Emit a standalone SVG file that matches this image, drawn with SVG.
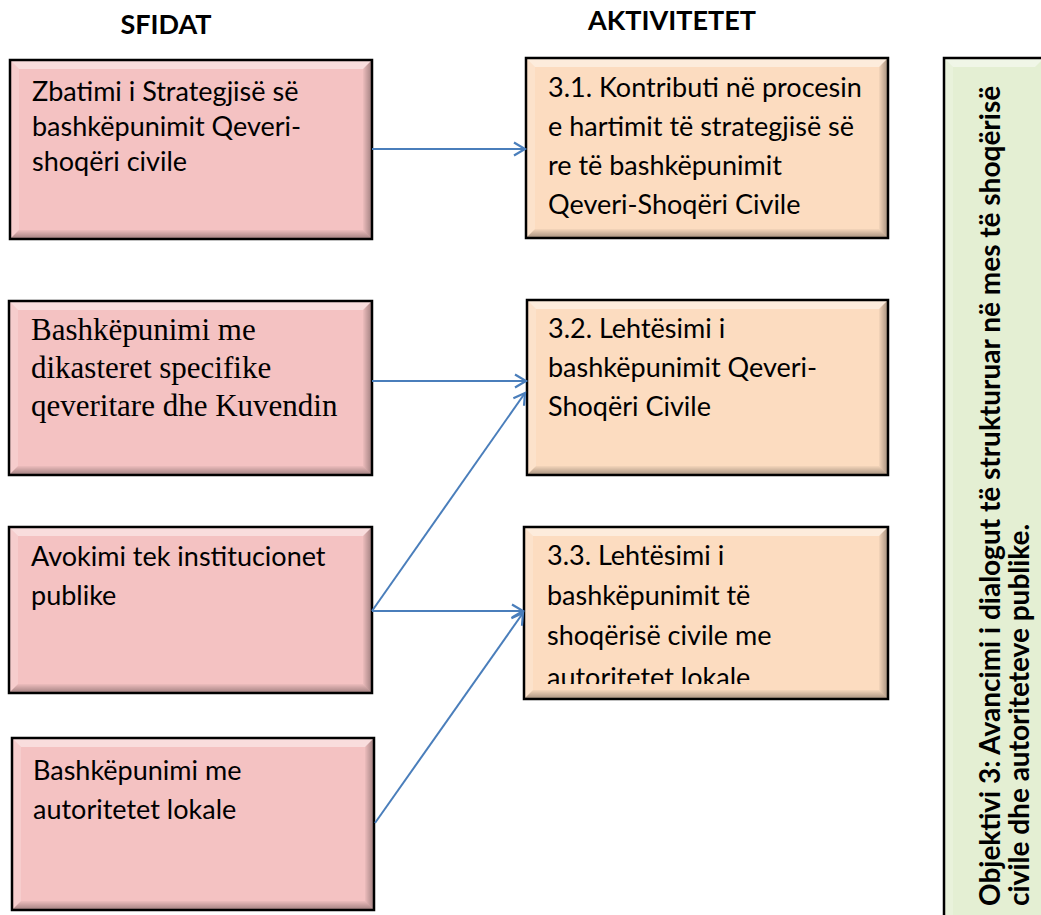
<svg xmlns="http://www.w3.org/2000/svg" width="1041" height="915" viewBox="0 0 1041 915">
<style>
.body{font-family:Lato,"Liberation Sans",sans-serif;font-size:27px;fill:#000}
.serif{font-family:"Liberation Serif",serif;font-size:31px;fill:#000}
.hdr{font-family:Lato,"Liberation Sans",sans-serif;font-size:27px;font-weight:bold;fill:#000}
.obj{font-family:Lato,"Liberation Sans",sans-serif;font-size:28px;font-weight:bold;fill:#000}
.frame{fill:none;stroke:#000;stroke-width:2.5}
.pink{fill:#F4C2C2}
.orange{fill:#FCDCC0}
.green{fill:#E4EFD3}
.hi{fill:#fff;fill-opacity:0.45}
.hl{fill:#fff;fill-opacity:0.18}
.conn{stroke:#4A7EBB;stroke-width:2;fill:none;marker-end:url(#arr)}
</style>
<defs>
<linearGradient id="gB" x1="0" y1="0" x2="0" y2="1"><stop offset="0" stop-color="#000" stop-opacity="0.03"/><stop offset="1" stop-color="#000" stop-opacity="0.35"/></linearGradient>
<linearGradient id="gR" x1="0" y1="0" x2="1" y2="0"><stop offset="0" stop-color="#000" stop-opacity="0.03"/><stop offset="1" stop-color="#000" stop-opacity="0.35"/></linearGradient>
<marker id="arr" markerUnits="userSpaceOnUse" markerWidth="16" markerHeight="16" refX="13" refY="8" orient="auto">
<path d="M2,1.5 L13,8 L2,14.5" fill="none" stroke="#4A7EBB" stroke-width="2.2"/>
</marker>
<clipPath id="c33"><rect x="524" y="527" width="364" height="157"/></clipPath>
</defs>
<rect width="1041" height="915" fill="#fff"/>

<g id="headers">
<text class="hdr" x="166" y="34" text-anchor="middle">SFIDAT</text>
<text class="hdr" x="672" y="30" text-anchor="middle">AKTIVITETET</text>
</g>

<g id="s1">
<rect class="pink" x="10" y="60" width="362" height="179"/>
<polygon class="hi" points="10,60 372,60 363,69 19,69"/>
<polygon class="hl" points="10,60 19,69 19,230 10,239"/>
<polygon fill="url(#gB)" points="10,239 19,230 363,230 372,239"/>
<polygon fill="url(#gR)" points="372,60 363,69 363,230 372,239"/>
<rect class="frame" x="10" y="60" width="362" height="179"/>
<text class="body" x="32" y="101">Zbatimi i Strategjisë së</text>
<text class="body" x="32" y="136">bashkëpunimit Qeveri-</text>
<text class="body" x="32" y="171">shoqëri civile</text>
</g>

<g id="s2">
<rect class="pink" x="9" y="301" width="363" height="174"/>
<polygon class="hi" points="9,301 372,301 363,310 18,310"/>
<polygon class="hl" points="9,301 18,310 18,466 9,475"/>
<polygon fill="url(#gB)" points="9,475 18,466 363,466 372,475"/>
<polygon fill="url(#gR)" points="372,301 363,310 363,466 372,475"/>
<rect class="frame" x="9" y="301" width="363" height="174"/>
<text class="serif" x="31" y="340">Bashkëpunimi me</text>
<text class="serif" x="31" y="378">dikasteret specifike</text>
<text class="serif" x="31" y="416">qeveritare dhe Kuvendin</text>
</g>

<g id="s3">
<rect class="pink" x="9" y="527" width="363" height="166"/>
<polygon class="hi" points="9,527 372,527 363,536 18,536"/>
<polygon class="hl" points="9,527 18,536 18,684 9,693"/>
<polygon fill="url(#gB)" points="9,693 18,684 363,684 372,693"/>
<polygon fill="url(#gR)" points="372,527 363,536 363,684 372,693"/>
<rect class="frame" x="9" y="527" width="363" height="166"/>
<text class="body" x="31" y="566">Avokimi tek institucionet</text>
<text class="body" x="31" y="605">publike</text>
</g>

<g id="s4">
<rect class="pink" x="12" y="738" width="362" height="172"/>
<polygon class="hi" points="12,738 374,738 365,747 21,747"/>
<polygon class="hl" points="12,738 21,747 21,901 12,910"/>
<polygon fill="url(#gB)" points="12,910 21,901 365,901 374,910"/>
<polygon fill="url(#gR)" points="374,738 365,747 365,901 374,910"/>
<rect class="frame" x="12" y="738" width="362" height="172"/>
<text class="body" x="33" y="780">Bashkëpunimi me</text>
<text class="body" x="33" y="819">autoritetet lokale</text>
</g>

<g id="a1">
<rect class="orange" x="526" y="58" width="362" height="180"/>
<polygon class="hi" points="526,58 888,58 879,67 535,67"/>
<polygon class="hl" points="526,58 535,67 535,229 526,238"/>
<polygon fill="url(#gB)" points="526,238 535,229 879,229 888,238"/>
<polygon fill="url(#gR)" points="888,58 879,67 879,229 888,238"/>
<rect class="frame" x="526" y="58" width="362" height="180"/>
<text class="body" x="548" y="97">3.1. Kontributi në procesin</text>
<text class="body" x="548" y="136">e hartimit të strategjisë së</text>
<text class="body" x="548" y="175">re të bashkëpunimit</text>
<text class="body" x="548" y="214">Qeveri-Shoqëri Civile</text>
</g>

<g id="a2">
<rect class="orange" x="527" y="300" width="361" height="175"/>
<polygon class="hi" points="527,300 888,300 879,309 536,309"/>
<polygon class="hl" points="527,300 536,309 536,466 527,475"/>
<polygon fill="url(#gB)" points="527,475 536,466 879,466 888,475"/>
<polygon fill="url(#gR)" points="888,300 879,309 879,466 888,475"/>
<rect class="frame" x="527" y="300" width="361" height="175"/>
<text class="body" x="548" y="338">3.2. Lehtësimi i</text>
<text class="body" x="548" y="377">bashkëpunimit Qeveri-</text>
<text class="body" x="548" y="416">Shoqëri Civile</text>
</g>

<g id="a3">
<rect class="orange" x="524" y="527" width="364" height="172"/>
<polygon class="hi" points="524,527 888,527 879,536 533,536"/>
<polygon class="hl" points="524,527 533,536 533,690 524,699"/>
<polygon fill="url(#gB)" points="524,699 533,690 879,690 888,699"/>
<polygon fill="url(#gR)" points="888,527 879,536 879,690 888,699"/>
<rect class="frame" x="524" y="527" width="364" height="172"/>
<g clip-path="url(#c33)">
<text class="body" x="547" y="565">3.3. Lehtësimi i</text>
<text class="body" x="547" y="605">bashkëpunimit të</text>
<text class="body" x="547" y="645">shoqërisë civile me</text>
<text class="body" x="547" y="687">autoritetet lokale</text>
</g>
</g>

<g id="objective">
<rect class="green" x="944" y="58" width="100" height="870"/>
<polygon class="hi" points="944,58 1044,58 1035,67 953,67"/>
<polygon class="hl" points="944,58 953,67 953,915 944,915"/>
<rect class="frame" x="944" y="58" width="100" height="870"/>
<text class="obj" transform="translate(1000,906) rotate(-90)">Objektivi 3: Avancimi i dialogut të strukturuar në mes të shoqërisë</text>
<text class="obj" transform="translate(1029,906) rotate(-90)">civile dhe autoriteteve publike.</text>
</g>

<g id="connectors">
<line class="conn" x1="372" y1="149" x2="525" y2="149"/>
<line class="conn" x1="372" y1="381" x2="526" y2="381"/>
<line class="conn" x1="372" y1="611" x2="525" y2="393"/>
<line class="conn" x1="372" y1="611" x2="523" y2="611"/>
<line class="conn" x1="375" y1="823" x2="523" y2="613"/>
</g>
</svg>
